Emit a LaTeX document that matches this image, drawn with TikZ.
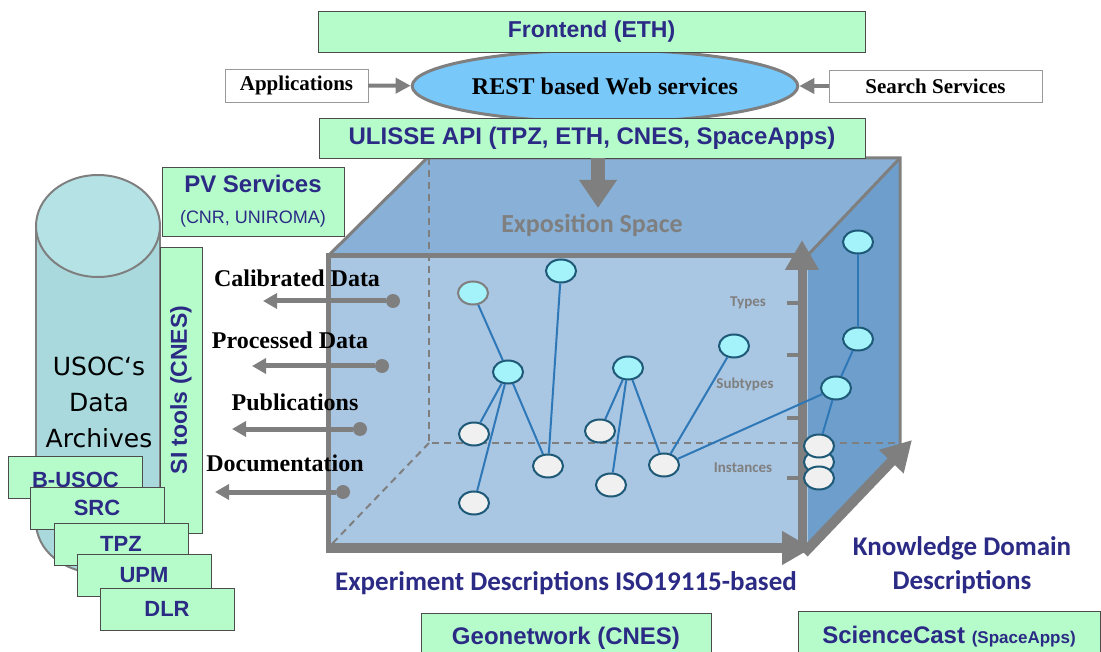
\documentclass[tikz,border=0pt]{standalone}
\usepackage{fontspec}
\setmainfont{Liberation Serif}
\setsansfont{Liberation Sans}
\newfontfamily\calibrifont{Carlito}
\newfontfamily\archivefont{DejaVu Sans}
\usetikzlibrary{shapes.geometric,arrows.meta}

\definecolor{mint}{HTML}{B6FCCA}
\definecolor{boxblue}{HTML}{2B2B86}
\definecolor{linegray}{HTML}{7F7F7F}
\definecolor{frontface}{HTML}{A9C6E2}
\definecolor{topface}{HTML}{89B1D7}
\definecolor{sideface}{HTML}{6E9FCC}
\definecolor{restblue}{HTML}{78C8FA}
\definecolor{cylfill}{HTML}{A9D9DD}
\definecolor{cyltop}{HTML}{B5E2E5}
\definecolor{typecyan}{HTML}{A4F3FA}
\definecolor{instwhite}{HTML}{F0F0F0}
\definecolor{nodeedge}{HTML}{1E5A78}
\definecolor{linkblue}{HTML}{2F78B8}

\newcommand{\pxsize}[1]{\fontsize{#1}{#1}\selectfont}

\begin{document}
\begin{tikzpicture}[x=1pt,y=-1pt]
\tikzstyle{greenbox}=[rectangle,draw=black!70,fill=mint,text=boxblue,font=\sffamily\bfseries\pxsize{24},inner sep=0pt]
\tikzstyle{sitebox}=[greenbox,minimum width=134pt,minimum height=42pt,font=\sffamily\bfseries\pxsize{22}]
\tikzstyle{whitebox}=[rectangle,draw=black!40,fill=white,font=\bfseries\pxsize{21},inner sep=0pt]
\tikzstyle{typenode}=[ellipse,draw=nodeedge,line width=2pt,fill=typecyan,minimum width=30pt,minimum height=23pt,inner sep=0pt]
\tikzstyle{instnode}=[ellipse,draw=nodeedge,line width=2pt,fill=instwhite,minimum width=30pt,minimum height=23pt,inner sep=0pt]
\tikzstyle{treelink}=[linkblue,line width=2pt]
\tikzstyle{flowarrow}=[linegray,line width=4pt,-{Triangle[length=15pt,width=15pt]}]
\tikzstyle{datalink}=[linegray,line width=5pt,-{Triangle[length=14pt,width=15pt]}]
\tikzstyle{datadot}=[circle,fill=linegray,minimum size=14pt,inner sep=0pt]
\tikzstyle{axisarrow}=[linegray,line width=10pt,-{Triangle[length=30pt,width=32pt]}]
\tikzstyle{backedge}=[linegray,line width=2pt,dash pattern=on 7pt off 5pt]
\tikzstyle{axislabel}=[text=linegray,font=\calibrifont\bfseries\pxsize{15}]
\tikzstyle{datalabel}=[font=\bfseries\pxsize{24}]
\tikzstyle{bluelabel}=[text=boxblue,font=\calibrifont\bfseries\pxsize{27},align=center]

\useasboundingbox (0,0) rectangle (1101,652);

%cube faces.
\fill[topface] (328,256) -- (427,158) -- (900,158) -- (807,256) -- cycle;
\fill[sideface] (807,256) -- (900,158) -- (900,445) -- (808,548) -- cycle;
\fill[frontface] (328,256) rectangle (808,548);

%hidden edges.
\draw[backedge] (429,158) -- (429,443) -- (900,443);
\draw[backedge] (429,443) -- (330,546);

%visible edges.
\draw[linegray,line width=3pt] (328,256) -- (427,158) -- (900,158) -- (900,445);
\draw[linegray,line width=3pt] (807,256) -- (900,158);
\draw[linegray,line width=5pt] (328,548) -- (328,256) -- (808,256);

\node[text=linegray,font=\calibrifont\bfseries\pxsize{26}] (expo_space) at (592,225) {Exposition Space};

%axes.
\coordinate (exp_start) at (326,548);
\coordinate (exp_tip) at (812,548);
\coordinate (lvl_start) at (802,553);
\coordinate (lvl_tip) at (802,240);
\coordinate (dom_start) at (804,553);
\coordinate (dom_tip) at (912,440);
\draw[axisarrow] (exp_start) -- (exp_tip);
\draw[axisarrow,line width=9pt] (lvl_start) -- (lvl_tip);
\draw[axisarrow] (dom_start) -- (dom_tip);
\foreach \y in {303,355,418,478}
  \draw[linegray,line width=4pt] (787,\y) -- (800,\y);

\node[axislabel] (types) at (748,303) {Types};
\node[axislabel] (subtypes) at (745,384) {Subtypes};
\node[axislabel] (instances) at (743,468) {Instances};

%experiment tree.
\node[typenode,draw=linegray] (t1) at (473,293) {};
\node[typenode] (t2) at (561,271) {};
\node[typenode] (s1) at (508,372) {};
\node[typenode] (s2) at (628,368) {};
\node[typenode] (s3) at (734,346) {};
\node[instnode] (i1) at (474,434) {};
\node[instnode] (i2) at (548,466) {};
\node[instnode] (i3) at (474,503) {};
\node[instnode] (i4) at (600,431) {};
\node[instnode] (i5) at (611,485) {};
\node[instnode] (i6) at (664,465) {};

%domain tree.
\node[typenode] (k1) at (858,242) {};
\node[typenode] (k2) at (858,339) {};
\node[typenode] (k3) at (836,388) {};
\node[instnode] (k5) at (819,462) {};
\node[instnode] (k4) at (819,446) {};
\node[instnode] (k6) at (819,478) {};

\draw[treelink] (t1) -- (s1);
\draw[treelink] (s1) -- (i1);
\draw[treelink] (s1) -- (i3);
\draw[treelink] (s1) -- (i2);
\draw[treelink] (t2) -- (i2);
\draw[treelink] (s2) -- (i4);
\draw[treelink] (s2) -- (i5);
\draw[treelink] (s2) -- (i6);
\draw[treelink] (s3) -- (i6);
\draw[treelink] (i6) -- (k3);
\draw[treelink] (k1) -- (k2);
\draw[treelink] (k2) -- (k3);
\draw[treelink] (k3) -- (k4);

%archive cylinder.
\filldraw[fill=cylfill,draw=linegray,line width=2pt] (98,522) ellipse [x radius=62pt,y radius=51pt];
\fill[cylfill] (36,226) rectangle (160,522);
\draw[linegray,line width=2pt] (36,226) -- (36,522) (160,226) -- (160,522);
\filldraw[fill=cyltop,draw=linegray,line width=2pt] (98,226) ellipse [x radius=62pt,y radius=51pt];
\node[font=\archivefont\fontsize{25}{36}\selectfont,align=center] (usoc) at (99,402) {USOC‘s\\Data\\Archives};

\node[greenbox,rotate=90,minimum width=286pt,minimum height=42pt,font=\sffamily\bfseries\pxsize{23}] (si_tools) at (181,390) {SI tools (CNES)};
\node[greenbox,minimum width=182pt,minimum height=69pt,align=center] (pv_services) at (253,201.5) {PV Services\\[7pt]{\mdseries\pxsize{18}(CNR, UNIROMA)}};

\node[sitebox,text height=19pt,text depth=0pt] (b_usoc) at (75.5,477.5) {B-USOC};
\node[sitebox] (src) at (97,508) {SRC};
\node[sitebox] (tpz) at (121,544) {TPZ};
\node[sitebox] (upm) at (144,575.5) {UPM};
\node[sitebox] (dlr) at (167,609) {DLR};

%outputs of the exposition space.
\node[datalabel] (calibrated) at (297,278) {Calibrated Data};
\node[datadot] (cal_dot) at (393,301) {};
\coordinate (cal_tip) at (263,301);
\draw[datalink] (cal_dot) -- (cal_tip);

\node[datalabel] (processed) at (290,340) {Processed Data};
\node[datadot] (proc_dot) at (382,366) {};
\coordinate (proc_tip) at (252,366);
\draw[datalink] (proc_dot) -- (proc_tip);

\node[datalabel] (publications) at (295,402) {Publications};
\node[datadot] (pub_dot) at (360,429) {};
\coordinate (pub_tip) at (232,429);
\draw[datalink] (pub_dot) -- (pub_tip);

\node[datalabel] (documentation) at (285,463) {Documentation};
\node[datadot] (doc_dot) at (343,492) {};
\coordinate (doc_tip) at (215,492);
\draw[datalink] (doc_dot) -- (doc_tip);

%services on top.
\node[ellipse,draw=linegray,line width=3pt,fill=restblue,minimum width=321pt,minimum height=72pt,font=\bfseries\pxsize{24}] (rest) at (605,86) {REST based Web services};
\node[greenbox,minimum width=547pt,minimum height=41pt,font=\sffamily\bfseries\pxsize{23}] (frontend) at (591.5,31.5) {Frontend (ETH)};
\node[greenbox,minimum width=546pt,minimum height=40pt] (ulisse) at (592,138) {ULISSE API (TPZ, ETH, CNES, SpaceApps)};
\node[whitebox,minimum width=143pt,minimum height=33pt] (apps) at (296.5,85.5) {Applications};
\node[whitebox,minimum width=213pt,minimum height=32pt] (search) at (935.5,86) {Search Services};
\draw[flowarrow] (apps) -- (rest);
\draw[flowarrow] (search) -- (rest);

\coordinate (expo_tip) at (598,208);
\draw[linegray,line width=14pt,-{Triangle[length=28pt,width=36pt]}] (ulisse.south -| expo_tip) -- (expo_tip);

%descriptions.
\node[bluelabel] (exp_desc) at (566,583) {Experiment Descriptions ISO19115-based};
\node[bluelabel,font=\calibrifont\bfseries\fontsize{27}{34}\selectfont] (domain_desc) at (962,565) {Knowledge Domain\\Descriptions};
\node[greenbox,minimum width=290pt,minimum height=50pt] (geonetwork) at (566,638) {Geonetwork (CNES)};
\node[greenbox,minimum width=302pt,minimum height=52pt] (sciencecast) at (949,637) {ScienceCast {\pxsize{17}(SpaceApps)}};

\end{tikzpicture}
\end{document}
